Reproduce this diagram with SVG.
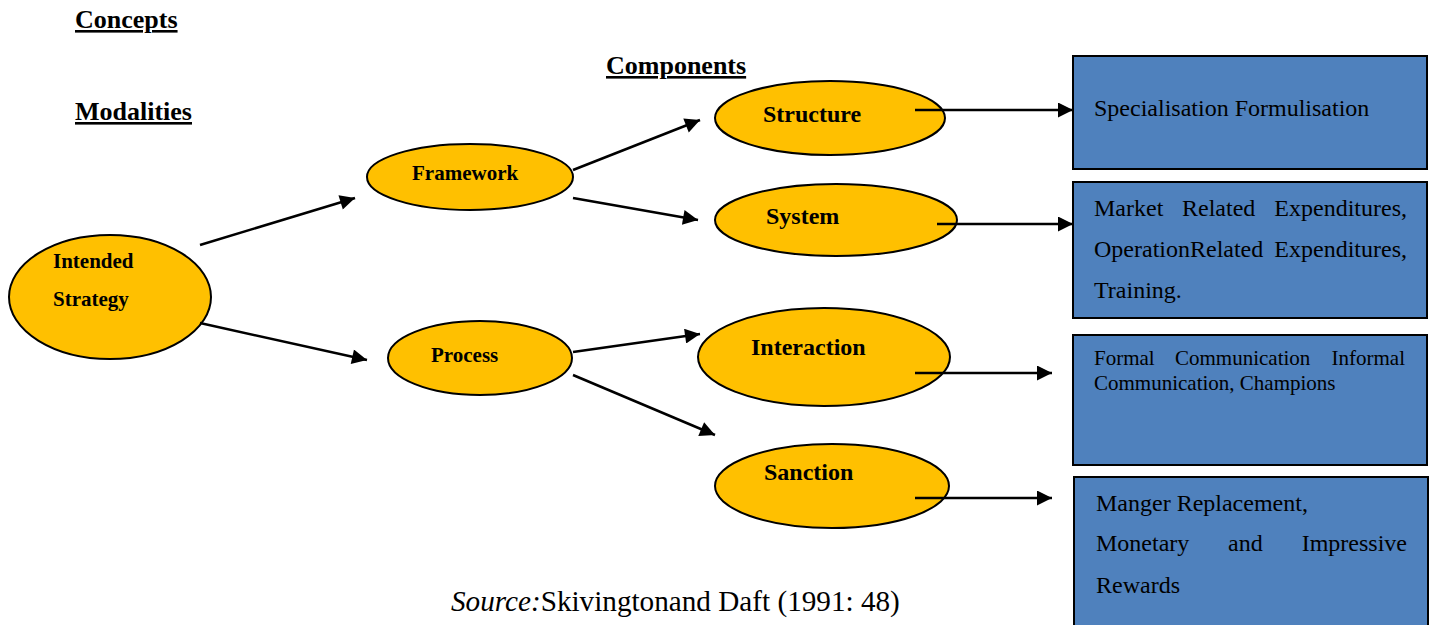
<svg xmlns="http://www.w3.org/2000/svg" width="1435" height="625" viewBox="0 0 1435 625">
<style>
.hd{font-family:"Liberation Serif",serif;font-weight:bold;font-size:26px;text-decoration:underline;fill:#000}
.el{fill:#FFC000;stroke:#000;stroke-width:2}
.nl{font-family:"Liberation Serif",serif;font-weight:bold;font-size:21px;fill:#000}
.nr{font-family:"Liberation Serif",serif;font-weight:bold;font-size:24px;fill:#000}
.bx{fill:#4F81BD;stroke:#000;stroke-width:2}
.bt{font-family:"Liberation Serif",serif;font-size:24px;fill:#000}
.bs{font-family:"Liberation Serif",serif;font-size:21px;fill:#000}
.cn{stroke:#000;stroke-width:2.5;fill:none}
.e{text-anchor:end}
</style>
<defs>
<marker id="ah" viewBox="0 0 10 10" refX="10" refY="5" markerWidth="7" markerHeight="6" markerUnits="strokeWidth" orient="auto">
<path d="M0,0 L10,5 L0,10 z" fill="#000"/>
</marker>
</defs>
<rect width="1435" height="625" fill="#fff"/>
<text class="hd" x="75" y="28">Concepts</text>
<text class="hd" x="606" y="74">Components</text>
<text class="hd" x="75" y="120">Modalities</text>

<g id="intended">
<ellipse class="el" cx="110" cy="297" rx="101" ry="62"/>
<text class="nl" x="53" y="268">Intended</text>
<text class="nl" x="53" y="306">Strategy</text>
</g>
<g id="framework">
<ellipse class="el" cx="470" cy="177" rx="103" ry="33"/>
<text class="nl" x="412" y="180">Framework</text>
</g>
<g id="process">
<ellipse class="el" cx="480" cy="358" rx="92" ry="37"/>
<text class="nl" x="431" y="362">Process</text>
</g>
<g id="structure">
<ellipse class="el" cx="830" cy="118" rx="115" ry="37"/>
<text class="nr" x="763" y="122">Structure</text>
</g>
<g id="system">
<ellipse class="el" cx="836" cy="220" rx="121" ry="36"/>
<text class="nr" x="766" y="224">System</text>
</g>
<g id="interaction">
<ellipse class="el" cx="824" cy="357" rx="126" ry="49"/>
<text class="nr" x="751" y="355">Interaction</text>
</g>
<g id="sanction">
<ellipse class="el" cx="832" cy="486" rx="117" ry="42"/>
<text class="nr" x="764" y="480">Sanction</text>
</g>

<g id="box1">
<rect class="bx" x="1073" y="56" width="354" height="113"/>
<text class="bt" x="1094" y="116">Specialisation Formulisation</text>
</g>
<g id="box2">
<rect class="bx" x="1073" y="182" width="354" height="136"/>
<text class="bt" x="1094" y="216">Market</text>
<text class="bt" x="1182" y="216">Related</text>
<text class="bt e" x="1407" y="216">Expenditures,</text>
<text class="bt" x="1094" y="257">OperationRelated</text>
<text class="bt e" x="1407" y="257">Expenditures,</text>
<text class="bt" x="1094" y="298">Training.</text>
</g>
<g id="box3">
<rect class="bx" x="1073" y="335" width="354" height="130"/>
<text class="bs" x="1094" y="365">Formal</text>
<text class="bs" x="1175" y="365">Communication</text>
<text class="bs e" x="1405" y="365">Informal</text>
<text class="bs" x="1094" y="390">Communication, Champions</text>
</g>
<g id="box4">
<rect class="bx" x="1074" y="477" width="354" height="160"/>
<text class="bt" x="1096" y="511">Manger Replacement,</text>
<text class="bt" x="1096" y="551">Monetary</text>
<text class="bt" x="1228" y="551">and</text>
<text class="bt e" x="1407" y="551">Impressive</text>
<text class="bt" x="1096" y="593">Rewards</text>
</g>

<text x="451" y="611" font-family="Liberation Serif, serif" font-size="29.2" fill="#000"><tspan font-style="italic">Source:</tspan>Skivingtonand Daft (1991: 48)</text>

<g id="connectors">
<line class="cn" x1="200" y1="245" x2="355" y2="198" marker-end="url(#ah)"/>
<line class="cn" x1="200" y1="323" x2="367" y2="360" marker-end="url(#ah)"/>
<line class="cn" x1="573" y1="170" x2="700" y2="120" marker-end="url(#ah)"/>
<line class="cn" x1="573" y1="198" x2="698" y2="220" marker-end="url(#ah)"/>
<line class="cn" x1="573" y1="352" x2="700" y2="334" marker-end="url(#ah)"/>
<line class="cn" x1="573" y1="375" x2="715" y2="435" marker-end="url(#ah)"/>
<line class="cn" x1="915" y1="110" x2="1073" y2="110" marker-end="url(#ah)"/>
<line class="cn" x1="937" y1="224" x2="1073" y2="224" marker-end="url(#ah)"/>
<line class="cn" x1="915" y1="373" x2="1052" y2="373" marker-end="url(#ah)"/>
<line class="cn" x1="915" y1="498" x2="1052" y2="498" marker-end="url(#ah)"/>
</g>
</svg>
